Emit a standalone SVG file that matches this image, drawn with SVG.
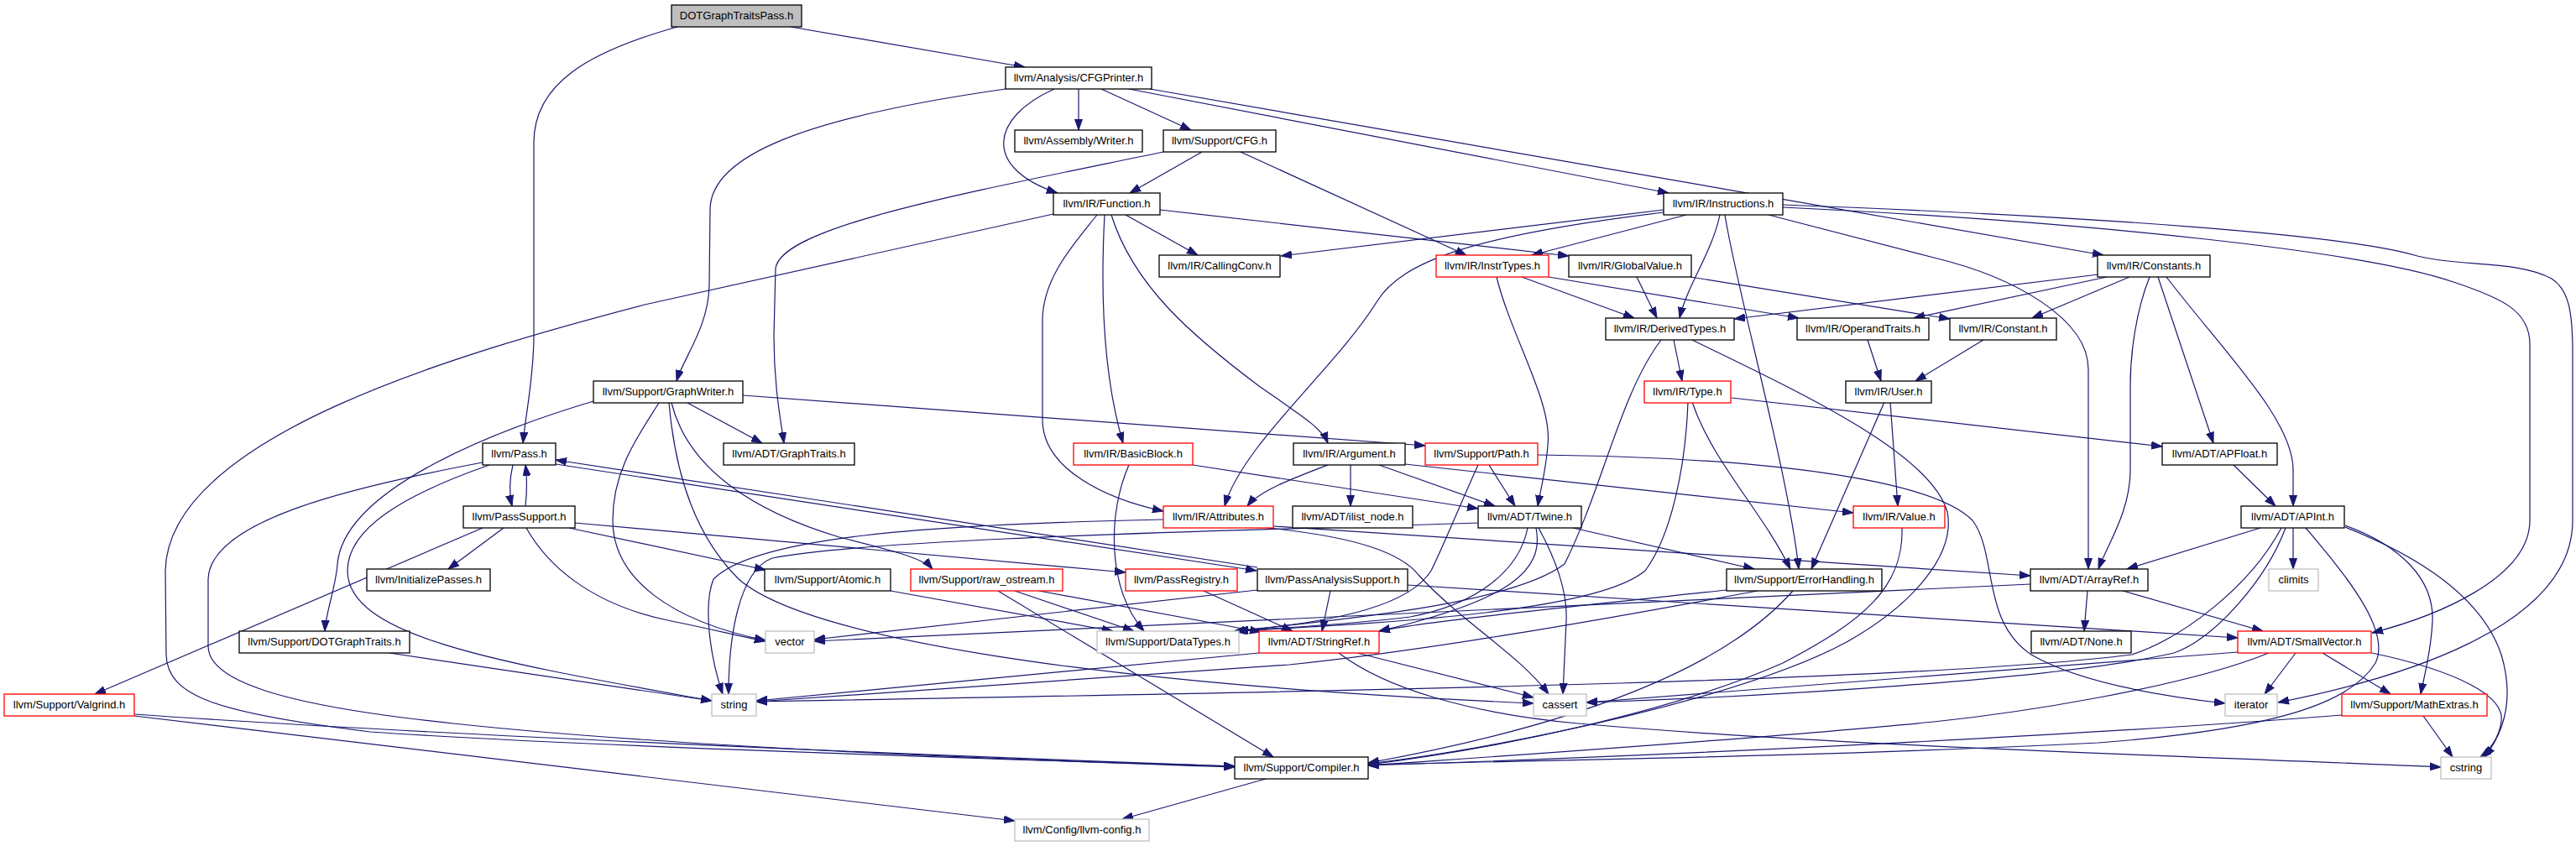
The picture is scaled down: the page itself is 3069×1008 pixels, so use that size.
<svg xmlns="http://www.w3.org/2000/svg" width="3069" height="1008" viewBox="0 0 3069 1008">
<defs>
<marker id="a" markerWidth="13" markerHeight="10" refX="13" refY="5" orient="auto" markerUnits="userSpaceOnUse"><path d="M0,0.5 L13,5 L0,9.5 z" fill="#191970" stroke="#191970" stroke-width="1"/></marker>
<style>
.n rect{fill:#fff;stroke:#000;stroke-width:1.3}
.n.r rect{stroke:#f00}
.n.g rect{stroke:#bfbfbf}
.n.root rect{fill:#bfbfbf}
.n text{font-family:"Liberation Sans",Arial,sans-serif;font-size:13px;text-anchor:middle;fill:#000}
#edges path{fill:none;stroke:#191970;stroke-width:1.2;marker-end:url(#a)}
</style>
</defs>
<rect width="3069" height="1008" fill="#fff"/>
<g id="edges">
<path d="M942,32 L1221,80"/>
<path d="M807,32 C700,62 636,100 636,170 L636,400 C636,450 626,495 623,528"/>
<path d="M1198,106 C960,140 846,185 846,250 L845,340 C844,390 815,425 806,454"/>
<path d="M1256,106 C1180,140 1170,200 1260,230"/>
<path d="M1285,106 L1285,155"/>
<path d="M1312,106 L1419,155"/>
<path d="M1345,106 L1988,230"/>
<path d="M1370,106 L2506,304"/>
<path d="M1432,181 L1346,230"/>
<path d="M1478,181 L1747,304"/>
<path d="M1386,181 C1150,230 930,270 924,320 L922,400 C922,460 930,500 934,528"/>
<path d="M1255,255 L768,363 C550,420 200,520 197,680 L198,780 C199,830 260,850 441,872 C700,890 1200,905 1471,913"/>
<path d="M1382,250 L1869,305"/>
<path d="M1341,256 L1427,304"/>
<path d="M1316,256 C1312,330 1312,440 1338,528"/>
<path d="M1324,256 C1350,340 1420,400 1500,460 C1550,495 1575,510 1582,528"/>
<path d="M1307,256 C1280,290 1243,330 1242,380 L1242,500 C1242,560 1320,595 1386,609"/>
<path d="M1982,250 L1526,305"/>
<path d="M1982,253 C1760,280 1670,310 1640,360 C1590,440 1480,530 1459,603"/>
<path d="M2009,256 L1825,304"/>
<path d="M2049,256 C2040,300 2010,340 2001,379"/>
<path d="M2055,256 C2070,350 2130,560 2143,678"/>
<path d="M2107,256 L2304,307 C2400,330 2488,380 2488,440 L2488,678"/>
<path d="M2124,247 C2500,265 2820,300 2923,336 C2980,355 3014,370 3014,410 L3014,620 C3014,690 2900,735 2826,754"/>
<path d="M2124,244 C2500,258 2800,280 2880,305 C2930,318 3000,310 3040,332 C3060,345 3065,370 3065,420 L3065,620 C3065,750 2850,810 2714,837"/>
<path d="M1813,330 L1947,379"/>
<path d="M1845,330 L2143,379"/>
<path d="M1783,330 C1800,400 1850,480 1844,530 C1842,560 1835,585 1832,603"/>
<path d="M1950,330 L1974,379"/>
<path d="M2014,330 L2323,380"/>
<path d="M2500,327 L2066,380"/>
<path d="M2510,330 L2280,379"/>
<path d="M2537,330 L2421,379"/>
<path d="M2561,330 C2545,370 2538,420 2538,460 L2538,560 C2538,610 2510,650 2500,678"/>
<path d="M2571,330 L2637,528"/>
<path d="M2581,330 C2650,420 2732,500 2732,560 L2732,603"/>
<path d="M1994,405 L2004,454"/>
<path d="M1979,405 C1930,470 1910,580 1864,672 C1800,720 1600,738 1470,752"/>
<path d="M2016,405 C2150,470 2300,540 2320,610 C2330,660 2280,720 2200,765 C2080,830 1800,890 1630,910"/>
<path d="M2225,405 L2241,454"/>
<path d="M2363,405 L2282,454"/>
<path d="M819,480 L908,528"/>
<path d="M885,471 L1698,531"/>
<path d="M707,478 C600,510 410,580 402,672 C400,700 388,730 387,752"/>
<path d="M785,480 C760,520 730,560 730,620 C730,690 800,740 912,763"/>
<path d="M797,480 C805,570 830,640 880,690 C960,760 1300,815 1827,838"/>
<path d="M800,480 C820,560 900,610 1000,640 C1060,655 1100,665 1111,678"/>
<path d="M2063,474 L2576,532"/>
<path d="M2016,479 C2040,550 2100,610 2133,678"/>
<path d="M2011,479 C2008,560 1990,640 1960,680 C1900,730 1650,742 1472,752"/>
<path d="M2252,479 L2261,603"/>
<path d="M2245,479 L2158,678"/>
<path d="M611,554 C606,575 607,590 610,603"/>
<path d="M626,603 C628,585 628,570 626,554"/>
<path d="M662,553 L1497,680"/>
<path d="M1498,676 L662,548"/>
<path d="M575,551 C420,580 250,620 248,690 L248,770 C248,810 330,840 540,862 C800,890 1200,905 1471,914"/>
<path d="M583,554 C480,590 414,630 414,680 C414,760 600,790 848,835"/>
<path d="M600,629 L534,678"/>
<path d="M575,629 L113,827"/>
<path d="M627,629 C650,670 700,720 800,740 C850,750 880,758 912,764"/>
<path d="M685,623 L1341,682"/>
<path d="M678,629 L912,679"/>
<path d="M1498,703 L970,762"/>
<path d="M1585,704 L1575,752"/>
<path d="M1677,697 L2666,760"/>
<path d="M1345,554 C1320,610 1318,700 1363,752"/>
<path d="M1421,554 L1761,606"/>
<path d="M1582,554 C1540,570 1500,585 1486,603"/>
<path d="M1609,554 L1609,603"/>
<path d="M1643,554 L1781,603"/>
<path d="M1674,553 L2208,611"/>
<path d="M1774,554 L1805,603"/>
<path d="M1761,554 C1740,600 1720,650 1705,680 C1680,720 1600,740 1474,752"/>
<path d="M1832,542 C2100,545 2300,570 2350,620 C2380,660 2360,740 2420,780 C2480,815 2580,830 2651,838"/>
<path d="M2661,554 L2711,603"/>
<path d="M1517,627 L2419,686"/>
<path d="M1510,629 C1620,640 1670,660 1690,685 C1740,740 1810,780 1845,827"/>
<path d="M1386,619 C1100,625 900,640 850,690 C838,720 845,780 861,827"/>
<path d="M1761,623 C1500,632 1050,640 920,665 C880,680 868,760 868,827"/>
<path d="M1820,629 C1810,680 1760,720 1680,735 C1600,745 1520,748 1474,752"/>
<path d="M1830,629 C1840,680 1800,715 1643,752"/>
<path d="M1833,629 C1850,660 1868,700 1866,740 L1862,827"/>
<path d="M1874,629 L2090,678"/>
<path d="M2266,629 C2268,700 2220,740 2124,790 C2000,845 1800,890 1630,911"/>
<path d="M1061,704 L1326,752"/>
<path d="M1189,704 L1517,902"/>
<path d="M1209,704 L1351,752"/>
<path d="M1238,704 L1502,753"/>
<path d="M1434,704 L1540,752"/>
<path d="M2057,703 C1900,720 1700,740 1643,752"/>
<path d="M2094,704 C1900,740 1700,775 1536,792 L901,836"/>
<path d="M2136,704 C2060,790 1900,860 1630,909"/>
<path d="M1500,778 L901,835"/>
<path d="M1617,778 L1827,831"/>
<path d="M1595,778 C1650,820 1750,850 1880,862 C2200,890 2600,900 2908,914"/>
<path d="M2487,704 L2483,752"/>
<path d="M2529,704 L2696,752"/>
<path d="M2419,696 L970,764"/>
<path d="M2666,777 L1890,837"/>
<path d="M2703,778 C2600,820 2400,850 2304,860 C2100,880 1800,900 1630,912"/>
<path d="M2735,778 L2698,827"/>
<path d="M2767,778 L2848,827"/>
<path d="M2826,778 C2930,800 2985,830 2980,860 C2977,880 2965,895 2955,902"/>
<path d="M2887,853 L2922,902"/>
<path d="M2790,852 C2500,875 2000,900 1630,912"/>
<path d="M2693,629 L2534,678"/>
<path d="M2723,629 C2700,690 2640,760 2590,778 C2450,810 2100,830 1890,837"/>
<path d="M2718,629 C2680,700 2600,760 2540,780 C2300,810 1700,822 901,836"/>
<path d="M2732,629 L2732,678"/>
<path d="M2747,629 C2790,680 2850,750 2830,790 C2800,840 2700,870 2500,885 C2200,900 1900,905 1630,911"/>
<path d="M2794,626 C2860,650 2900,690 2898,740 C2896,780 2888,805 2884,827"/>
<path d="M2794,628 C2900,670 2960,720 2980,780 C2995,830 2985,870 2960,902"/>
<path d="M464,778 L848,835"/>
<path d="M160,851 C500,875 1100,900 1471,913"/>
<path d="M160,853 L1209,978"/>
<path d="M1508,928 L1337,976"/>
</g>
<g id="n0" class="n root"><rect x="800" y="6" width="155" height="26"/><text x="877.5" y="22.5">DOTGraphTraitsPass.h</text></g>
<g id="n1" class="n"><rect x="1198" y="80" width="174" height="26"/><text x="1285" y="96.5">llvm/Analysis/CFGPrinter.h</text></g>
<g id="n2" class="n"><rect x="1209" y="155" width="152" height="26"/><text x="1285" y="171.5">llvm/Assembly/Writer.h</text></g>
<g id="n3" class="n"><rect x="1386" y="155" width="134" height="26"/><text x="1453" y="171.5">llvm/Support/CFG.h</text></g>
<g id="n4" class="n"><rect x="1255" y="230" width="127" height="26"/><text x="1318.5" y="246.5">llvm/IR/Function.h</text></g>
<g id="n5" class="n"><rect x="1982" y="230" width="142" height="26"/><text x="2053" y="246.5">llvm/IR/Instructions.h</text></g>
<g id="n6" class="n"><rect x="1381" y="304" width="144" height="26"/><text x="1453" y="320.5">llvm/IR/CallingConv.h</text></g>
<g id="n7" class="n r"><rect x="1711" y="304" width="134" height="26"/><text x="1778" y="320.5">llvm/IR/InstrTypes.h</text></g>
<g id="n8" class="n"><rect x="1869" y="304" width="146" height="26"/><text x="1942" y="320.5">llvm/IR/GlobalValue.h</text></g>
<g id="n9" class="n"><rect x="2499" y="304" width="134" height="26"/><text x="2566" y="320.5">llvm/IR/Constants.h</text></g>
<g id="n10" class="n"><rect x="1913" y="379" width="153" height="26"/><text x="1989.5" y="395.5">llvm/IR/DerivedTypes.h</text></g>
<g id="n11" class="n"><rect x="2141" y="379" width="157" height="26"/><text x="2219.5" y="395.5">llvm/IR/OperandTraits.h</text></g>
<g id="n12" class="n"><rect x="2323" y="379" width="127" height="26"/><text x="2386.5" y="395.5">llvm/IR/Constant.h</text></g>
<g id="n13" class="n"><rect x="707" y="454" width="178" height="26"/><text x="796" y="470.5">llvm/Support/GraphWriter.h</text></g>
<g id="n14" class="n r"><rect x="1959" y="454" width="103" height="26"/><text x="2010.5" y="470.5">llvm/IR/Type.h</text></g>
<g id="n15" class="n"><rect x="2199" y="454" width="102" height="26"/><text x="2250" y="470.5">llvm/IR/User.h</text></g>
<g id="n16" class="n"><rect x="575" y="528" width="87" height="26"/><text x="618.5" y="544.5">llvm/Pass.h</text></g>
<g id="n17" class="n"><rect x="862" y="528" width="156" height="26"/><text x="940" y="544.5">llvm/ADT/GraphTraits.h</text></g>
<g id="n18" class="n r"><rect x="1279" y="528" width="142" height="26"/><text x="1350" y="544.5">llvm/IR/BasicBlock.h</text></g>
<g id="n19" class="n"><rect x="1541" y="528" width="133" height="26"/><text x="1607.5" y="544.5">llvm/IR/Argument.h</text></g>
<g id="n20" class="n r"><rect x="1698" y="528" width="134" height="26"/><text x="1765" y="544.5">llvm/Support/Path.h</text></g>
<g id="n21" class="n"><rect x="2576" y="528" width="137" height="26"/><text x="2644.5" y="544.5">llvm/ADT/APFloat.h</text></g>
<g id="n22" class="n"><rect x="552" y="603" width="133" height="26"/><text x="618.5" y="619.5">llvm/PassSupport.h</text></g>
<g id="n23" class="n r"><rect x="1386" y="603" width="131" height="26"/><text x="1451.5" y="619.5">llvm/IR/Attributes.h</text></g>
<g id="n24" class="n"><rect x="1540" y="603" width="143" height="26"/><text x="1611.5" y="619.5">llvm/ADT/ilist_node.h</text></g>
<g id="n25" class="n"><rect x="1761" y="603" width="123" height="26"/><text x="1822.5" y="619.5">llvm/ADT/Twine.h</text></g>
<g id="n26" class="n r"><rect x="2208" y="603" width="109" height="26"/><text x="2262.5" y="619.5">llvm/IR/Value.h</text></g>
<g id="n27" class="n"><rect x="2670" y="603" width="123" height="26"/><text x="2731.5" y="619.5">llvm/ADT/APInt.h</text></g>
<g id="n28" class="n"><rect x="437" y="678" width="147" height="26"/><text x="510.5" y="694.5">llvm/InitializePasses.h</text></g>
<g id="n29" class="n"><rect x="911" y="678" width="150" height="26"/><text x="986" y="694.5">llvm/Support/Atomic.h</text></g>
<g id="n30" class="n r"><rect x="1085" y="678" width="181" height="26"/><text x="1175.5" y="694.5">llvm/Support/raw_ostream.h</text></g>
<g id="n31" class="n r"><rect x="1341" y="678" width="133" height="26"/><text x="1407.5" y="694.5">llvm/PassRegistry.h</text></g>
<g id="n32" class="n"><rect x="1498" y="678" width="179" height="26"/><text x="1587.5" y="694.5">llvm/PassAnalysisSupport.h</text></g>
<g id="n33" class="n"><rect x="2057" y="678" width="185" height="26"/><text x="2149.5" y="694.5">llvm/Support/ErrorHandling.h</text></g>
<g id="n34" class="n"><rect x="2419" y="678" width="140" height="26"/><text x="2489" y="694.5">llvm/ADT/ArrayRef.h</text></g>
<g id="n35" class="n g"><rect x="2703" y="678" width="59" height="26"/><text x="2732.5" y="694.5">climits</text></g>
<g id="n36" class="n"><rect x="285" y="752" width="203" height="26"/><text x="386.5" y="768.5">llvm/Support/DOTGraphTraits.h</text></g>
<g id="n37" class="n g"><rect x="912" y="752" width="58" height="26"/><text x="941" y="768.5">vector</text></g>
<g id="n38" class="n g"><rect x="1307" y="752" width="169" height="26"/><text x="1391.5" y="768.5">llvm/Support/DataTypes.h</text></g>
<g id="n39" class="n r"><rect x="1500" y="752" width="143" height="26"/><text x="1571.5" y="768.5">llvm/ADT/StringRef.h</text></g>
<g id="n40" class="n"><rect x="2420" y="752" width="119" height="26"/><text x="2479.5" y="768.5">llvm/ADT/None.h</text></g>
<g id="n41" class="n r"><rect x="2666" y="752" width="159" height="26"/><text x="2745.5" y="768.5">llvm/ADT/SmallVector.h</text></g>
<g id="n42" class="n r"><rect x="5" y="827" width="155" height="26"/><text x="82.5" y="843.5">llvm/Support/Valgrind.h</text></g>
<g id="n43" class="n g"><rect x="848" y="827" width="53" height="26"/><text x="874.5" y="843.5">string</text></g>
<g id="n44" class="n g"><rect x="1827" y="827" width="63" height="26"/><text x="1858.5" y="843.5">cassert</text></g>
<g id="n45" class="n g"><rect x="2651" y="827" width="62" height="26"/><text x="2682" y="843.5">iterator</text></g>
<g id="n46" class="n r"><rect x="2790" y="827" width="173" height="26"/><text x="2876.5" y="843.5">llvm/Support/MathExtras.h</text></g>
<g id="n47" class="n"><rect x="1471" y="902" width="159" height="26"/><text x="1550.5" y="918.5">llvm/Support/Compiler.h</text></g>
<g id="n48" class="n g"><rect x="2908" y="902" width="60" height="26"/><text x="2938" y="918.5">cstring</text></g>
<g id="n49" class="n g"><rect x="1209" y="976" width="160" height="26"/><text x="1289" y="992.5">llvm/Config/llvm-config.h</text></g>
</svg>
